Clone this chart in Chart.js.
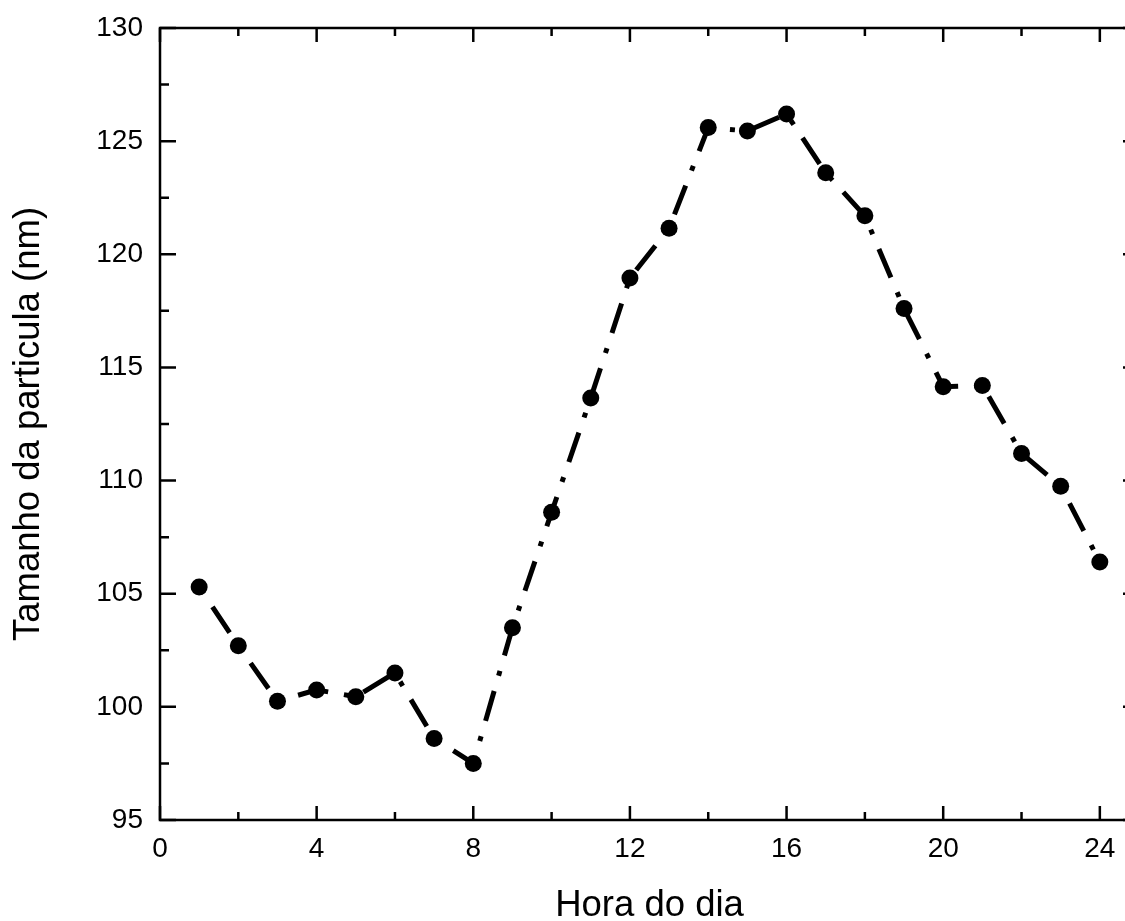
<!DOCTYPE html>
<html>
<head>
<meta charset="utf-8">
<script src="https://cdn.jsdelivr.net/npm/chart.js@4/dist/chart.umd.min.js"></script>
<style>
  html, body { margin: 0; padding: 0; background: #fff; overflow: hidden; }
  #wrap { position: absolute; left: 0; top: 0; width: 1160px; height: 921px; }
</style>
</head>
<body>
<div id="wrap"><canvas id="sizeByHour" width="1160" height="921"></canvas></div>
<script>
// Mean particle size for each hour of the day
const hours = [1, 2, 3, 4, 5, 6, 7, 8, 9, 10, 11, 12, 13, 14, 15, 16, 17, 18, 19, 20, 21, 22, 23, 24];
const sizes = [105.3, 102.7, 100.25, 100.75, 100.45, 101.5, 98.6, 97.5, 103.5, 108.6, 113.65,
  118.95, 121.15, 125.6, 125.45, 126.2, 123.6, 121.7, 117.6, 114.15, 114.2, 111.2, 109.75, 106.4];

const xTitle = 'Hora do dia';
const yTitle = 'Tamanho da particula (nm)';
const xRange = [0, 25];
const yRange = [95, 130];

const FONT = '"Liberation Sans", Arial, sans-serif';

// Box around the plot with inward major/minor ticks on all four sides
const frameTicks = {
  id: 'frameTicks',
  afterDraw(chart) {
    const { ctx, chartArea: a, scales } = chart;
    const xs = scales.x, ys = scales.y;
    ctx.save();
    ctx.strokeStyle = '#000';
    ctx.lineWidth = 2.5;
    ctx.lineCap = 'butt';
    ctx.strokeRect(a.left, a.top, a.right - a.left, a.bottom - a.top);

    const withMinors = (scale) => {
      const vals = scale.ticks.map((t) => t.value);
      const out = vals.map((v) => [v, true]);
      for (let i = 0; i < vals.length; i++) {
        const next = i + 1 < vals.length ? vals[i + 1] : vals[i] + (vals[1] - vals[0]);
        const mid = (vals[i] + next) / 2;
        if (mid <= scale.max) out.push([mid, false]);
      }
      return out;
    };

    ctx.beginPath();
    for (const [v, major] of withMinors(xs)) {
      const px = xs.getPixelForValue(v);
      const len = major ? 14 : 8;
      ctx.moveTo(px, a.bottom); ctx.lineTo(px, a.bottom - len);
      ctx.moveTo(px, a.top); ctx.lineTo(px, a.top + len);
    }
    for (const [v, major] of withMinors(ys)) {
      const py = ys.getPixelForValue(v);
      const len = major ? 16 : 9;
      ctx.moveTo(a.left, py); ctx.lineTo(a.left + len, py);
      ctx.moveTo(a.right, py); ctx.lineTo(a.right - len, py);
    }
    ctx.stroke();
    ctx.restore();
  },
};

const ctx = document.getElementById('sizeByHour').getContext('2d');
new Chart(ctx, {
  type: 'line',
  data: {
    datasets: [{
      data: hours.map((h, i) => ({ x: h, y: sizes[i] })),
      borderColor: '#000',
      borderWidth: 5,
      borderDash: [31, 16, 5, 16], // dash-dot
      borderDashOffset: 44,
      borderCapStyle: 'butt',
      pointRadius: 8.5,
      pointBackgroundColor: '#000',
      pointBorderWidth: 0,
      tension: 0,
      fill: false,
    }],
  },
  plugins: [frameTicks],
  options: {
    responsive: false,
    animation: false,
    layout: { padding: { top: 28, right: 21, bottom: 0, left: 0 } },
    plugins: { legend: { display: false }, tooltip: { enabled: false } },
    scales: {
      x: {
        type: 'linear',
        min: xRange[0],
        max: xRange[1],
        afterFit: (s) => { s.height = 101; s.paddingLeft = 0; s.paddingRight = 0; },
        border: { display: false },
        grid: { display: false, drawTicks: false },
        ticks: {
          stepSize: 4,
          includeBounds: false,
          padding: 12,
          color: '#000',
          font: { family: FONT, size: 28 },
        },
        title: {
          display: true,
          text: xTitle,
          color: '#000',
          font: { family: FONT, size: 36.5, lineHeight: 1 },
          padding: { top: 0, bottom: -3 },
        },
      },
      y: {
        min: yRange[0],
        max: yRange[1],
        afterFit: (s) => { s.width = 160; s.paddingTop = 0; s.paddingBottom = 0; },
        border: { display: false },
        grid: { display: false, drawTicks: false },
        ticks: {
          stepSize: 5,
          padding: 17,
          color: '#000',
          font: { family: FONT, size: 28 },
        },
        title: {
          display: true,
          text: yTitle,
          color: '#000',
          font: { family: FONT, size: 36.5, lineHeight: 1 },
          padding: { top: 11, bottom: 0 },
        },
      },
    },
  },
});
</script>
</body>
</html>
